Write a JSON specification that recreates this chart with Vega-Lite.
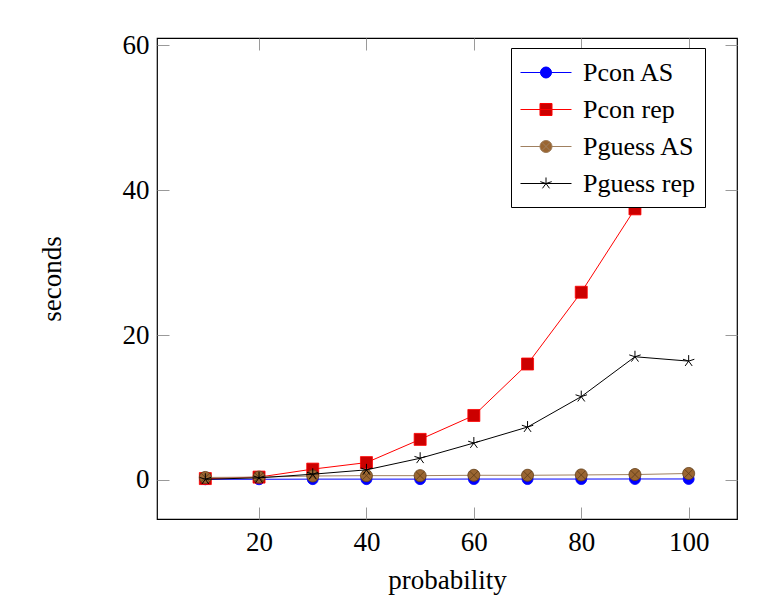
{
  "$schema": "https://vega.github.io/schema/vega-lite/v6.json",
  "width": 580,
  "height": 481,
  "autosize": "none",
  "padding": {"left": 157, "top": 38, "right": 43, "bottom": 77},
  "background": "white",
  "config": {
    "view": {"stroke": "black", "strokeWidth": 1.2},
    "font": "Liberation Serif",
    "legend": {"labelFont": "Liberation Serif"},
    "axis": {
      "grid": false,
      "domain": false,
      "tickSize": -12,
      "tickColor": "#9a9a9a",
      "tickWidth": 1,
      "labelFont": "Liberation Serif",
      "labelFontSize": 27,
      "labelColor": "black",
      "titleFont": "Liberation Serif",
      "titleFontSize": 27,
      "titleFontWeight": "normal",
      "titleColor": "black"
    }
  },
  "data": {
    "values": [
      {"x": 10, "y": 0.1, "series": "Pcon AS"},
      {"x": 20, "y": 0.1, "series": "Pcon AS"},
      {"x": 30, "y": 0.12, "series": "Pcon AS"},
      {"x": 40, "y": 0.12, "series": "Pcon AS"},
      {"x": 50, "y": 0.12, "series": "Pcon AS"},
      {"x": 60, "y": 0.13, "series": "Pcon AS"},
      {"x": 70, "y": 0.13, "series": "Pcon AS"},
      {"x": 80, "y": 0.13, "series": "Pcon AS"},
      {"x": 90, "y": 0.14, "series": "Pcon AS"},
      {"x": 100, "y": 0.14, "series": "Pcon AS"},
      {"x": 10, "y": 0.2, "series": "Pcon rep"},
      {"x": 20, "y": 0.4, "series": "Pcon rep"},
      {"x": 30, "y": 1.5, "series": "Pcon rep"},
      {"x": 40, "y": 2.4, "series": "Pcon rep"},
      {"x": 50, "y": 5.6, "series": "Pcon rep"},
      {"x": 60, "y": 8.9, "series": "Pcon rep"},
      {"x": 70, "y": 16.0, "series": "Pcon rep"},
      {"x": 80, "y": 25.9, "series": "Pcon rep"},
      {"x": 90, "y": 37.4, "series": "Pcon rep"},
      {"x": 100, "y": 55.5, "series": "Pcon rep"},
      {"x": 10, "y": 0.35, "series": "Pguess AS"},
      {"x": 20, "y": 0.4, "series": "Pguess AS"},
      {"x": 30, "y": 0.55, "series": "Pguess AS"},
      {"x": 40, "y": 0.6, "series": "Pguess AS"},
      {"x": 50, "y": 0.6, "series": "Pguess AS"},
      {"x": 60, "y": 0.65, "series": "Pguess AS"},
      {"x": 70, "y": 0.65, "series": "Pguess AS"},
      {"x": 80, "y": 0.7, "series": "Pguess AS"},
      {"x": 90, "y": 0.75, "series": "Pguess AS"},
      {"x": 100, "y": 0.9, "series": "Pguess AS"},
      {"x": 10, "y": 0.1, "series": "Pguess rep"},
      {"x": 20, "y": 0.3, "series": "Pguess rep"},
      {"x": 30, "y": 0.8, "series": "Pguess rep"},
      {"x": 40, "y": 1.4, "series": "Pguess rep"},
      {"x": 50, "y": 3.0, "series": "Pguess rep"},
      {"x": 60, "y": 5.1, "series": "Pguess rep"},
      {"x": 70, "y": 7.3, "series": "Pguess rep"},
      {"x": 80, "y": 11.5, "series": "Pguess rep"},
      {"x": 90, "y": 17.0, "series": "Pguess rep"},
      {"x": 100, "y": 16.4, "series": "Pguess rep"}
    ]
  },
  "layer": [
    {
      "transform": [{"filter": "datum.series === 'Pcon AS'"}],
      "mark": {"type": "line", "strokeWidth": 1},
      "encoding": {
        "x": {"field": "x", "type": "quantitative", "scale": {"domain": [1, 109], "nice": false, "zero": false},
              "axis": {"orient": "bottom", "values": [20, 40, 60, 80, 100], "title": "probability", "labelPadding": 22, "titlePadding": 12}},
        "y": {"field": "y", "type": "quantitative", "scale": {"domain": [-5.38, 60.97], "nice": false, "zero": false},
              "axis": {"orient": "left", "values": [0, 20, 40, 60], "title": "seconds", "labelPadding": 20, "titlePadding": 56}},
        "color": {
          "field": "series", "type": "nominal",
          "scale": {"domain": ["Pcon AS", "Pcon rep", "Pguess AS", "Pguess rep"], "range": ["#0000ff", "#ff0000", "#a08060", "#000000"]},
          "legend": {
            "title": null,
            "orient": "none",
            "legendX": 354,
            "legendY": 10,
            "strokeColor": "black",
            "fillColor": "white",
            "padding": 10,
            "labelFont": "Liberation Serif",
            "labelFontSize": 26,
            "labelColor": "black",
            "symbolSize": 784,
            "symbolStrokeWidth": 1,
            "rowPadding": 9,
            "labelOffset": 33,
            "encode": {
              "labels": {
                "update": {"font": {"value": "Liberation Serif"}, "fontSize": {"value": 26}}
              },
              "symbols": {
                "update": {
                  "shape": {"signal": "datum.value === 'Pcon AS' ? 'M-1.071,0L2.571,0M0.357,0A0.393,0.393,0,1,1,1.143,0A0.393,0.393,0,1,1,0.357,0Z' : datum.value === 'Pcon rep' ? 'M-1.071,0L2.571,0M0.321,-0.429L1.179,-0.429L1.179,0.429L0.321,0.429Z' : datum.value === 'Pguess AS' ? 'M-1.071,0L0.321,0M1.179,0L2.571,0M0.321,0A0.429,0.429,0,1,1,1.179,0A0.429,0.429,0,1,1,0.321,0ZM0.447,-0.303L1.053,0.303M0.447,0.303L1.053,-0.303' : 'M-1.071,0L2.571,0M0.75,0L0.75,-0.429M0.75,0L1.158,-0.133M0.75,0L1.002,0.347M0.75,0L0.498,0.347M0.75,0L0.342,-0.133'"},
                  "fill": {"signal": "datum.value === 'Pcon AS' ? '#0000ff' : datum.value === 'Pcon rep' ? '#cc0000' : datum.value === 'Pguess AS' ? '#9a6632' : 'transparent'"},
                  "stroke": {"signal": "datum.value === 'Pcon AS' ? '#0000ff' : datum.value === 'Pcon rep' ? '#ff0000' : datum.value === 'Pguess AS' ? '#8a6a48' : '#000000'"},
                  "strokeWidth": {"value": 1},
                  "opacity": {"value": 1}
                }
              }
            }
          }
        }
      }
    },
    {
      "transform": [{"filter": "datum.series === 'Pcon AS'"}],
      "mark": {"type": "point", "shape": "circle", "size": 121, "filled": true, "fill": "#0000ff", "stroke": "#0000ff", "strokeWidth": 0.8, "opacity": 1},
      "encoding": {
        "x": {"field": "x", "type": "quantitative", "axis": {"orient": "top", "values": [20, 40, 60, 80, 100], "labels": false, "title": null}},
        "y": {"field": "y", "type": "quantitative", "axis": {"orient": "right", "values": [0, 20, 40, 60], "labels": false, "title": null}}
      }
    },
    {
      "transform": [{"filter": "datum.series === 'Pcon rep'"}],
      "mark": {"type": "line", "strokeWidth": 1},
      "encoding": {
        "x": {"field": "x", "type": "quantitative", "axis": null},
        "y": {"field": "y", "type": "quantitative", "axis": null},
        "color": {"field": "series", "type": "nominal", "legend": null}
      }
    },
    {
      "transform": [{"filter": "datum.series === 'Pcon rep'"}],
      "mark": {"type": "point", "shape": "square", "size": 144, "filled": true, "fill": "#cc0000", "stroke": "#ff0000", "strokeWidth": 0.8, "opacity": 1},
      "encoding": {
        "x": {"field": "x", "type": "quantitative", "axis": null},
        "y": {"field": "y", "type": "quantitative", "axis": null}
      }
    },
    {
      "transform": [{"filter": "datum.series === 'Pguess AS'"}],
      "mark": {"type": "line", "strokeWidth": 1},
      "encoding": {
        "x": {"field": "x", "type": "quantitative", "axis": null},
        "y": {"field": "y", "type": "quantitative", "axis": null},
        "color": {"field": "series", "type": "nominal", "legend": null}
      }
    },
    {
      "transform": [{"filter": "datum.series === 'Pguess AS'"}],
      "mark": {"type": "point", "shape": "M-1,0A1,1,0,1,1,1,0A1,1,0,1,1,-1,0ZM-0.707,-0.707L0.707,0.707M-0.707,0.707L0.707,-0.707", "size": 144, "filled": true, "fill": "#9a6632", "stroke": "#5e3b17", "strokeWidth": 0.8, "opacity": 1},
      "encoding": {
        "x": {"field": "x", "type": "quantitative", "axis": null},
        "y": {"field": "y", "type": "quantitative", "axis": null}
      }
    },
    {
      "transform": [{"filter": "datum.series === 'Pguess rep'"}],
      "mark": {"type": "line", "strokeWidth": 1},
      "encoding": {
        "x": {"field": "x", "type": "quantitative", "axis": null},
        "y": {"field": "y", "type": "quantitative", "axis": null},
        "color": {"field": "series", "type": "nominal", "legend": null}
      }
    },
    {
      "transform": [{"filter": "datum.series === 'Pguess rep'"}],
      "mark": {"type": "point", "shape": "M0,0L0,-1M0,0L0.951,-0.309M0,0L0.588,0.809M0,0L-0.588,0.809M0,0L-0.951,-0.309", "size": 144, "filled": false, "stroke": "#000000", "strokeWidth": 1, "opacity": 1},
      "encoding": {
        "x": {"field": "x", "type": "quantitative", "axis": null},
        "y": {"field": "y", "type": "quantitative", "axis": null}
      }
    }
  ],
  "resolve": {"axis": {"x": "independent", "y": "independent"}}
}
